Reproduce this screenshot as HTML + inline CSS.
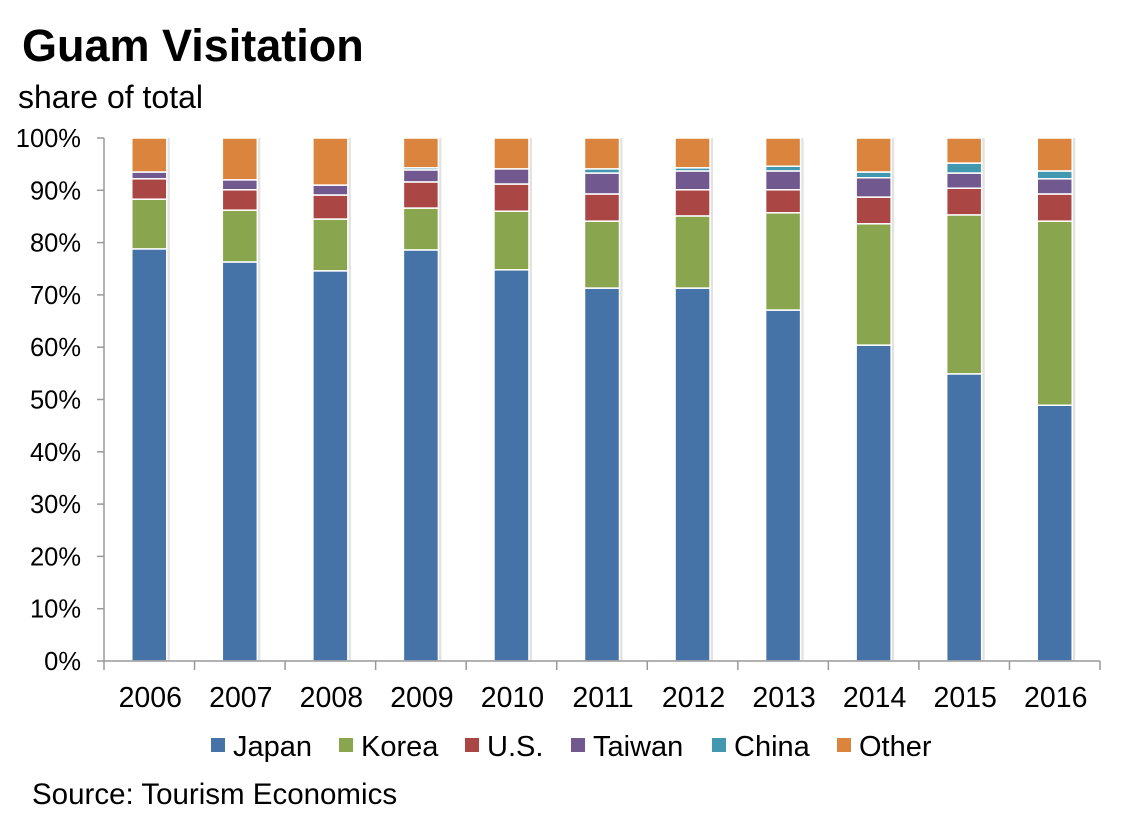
<!DOCTYPE html>
<html><head><meta charset="utf-8"><style>
body{margin:0;background:#fff;font-family:"Liberation Sans",Arial,sans-serif;}
svg text{font-family:"Liberation Sans",Arial,sans-serif;fill:#000;}
</style></head><body>
<svg id="chart" width="1130" height="820" xmlns="http://www.w3.org/2000/svg">
<text x="22" y="61" font-size="45" font-weight="bold">Guam Visitation</text>
<text x="18" y="108" font-size="32">share of total</text>
<text x="32" y="804" font-size="29.5">Source: Tourism Economics</text>
<g id="plot"></g>
<g id="legend"></g>
</svg>
<script>
const categories=["2006","2007","2008","2009","2010","2011","2012","2013","2014","2015","2016"];
const japan=[78.8,76.3,74.6,78.6,74.8,71.3,71.3,67.1,60.4,54.9,48.9];
const korea=[9.5,9.9,9.9,8.0,11.2,12.8,13.8,18.6,23.2,30.4,35.2];
const us=[3.9,3.9,4.6,5.0,5.2,5.2,5.0,4.4,5.1,5.1,5.2];
const taiwan=[1.3,1.9,1.9,2.3,2.9,4.0,3.6,3.6,3.7,2.9,2.9];
const china=[0,0,0,0.4,0,0.8,0.6,0.9,1.1,1.9,1.5];
const other=[6.5,8.0,9.0,5.7,5.9,5.9,5.7,5.4,6.5,4.8,6.3];
const yTicks=["0%","10%","20%","30%","40%","50%","60%","70%","80%","90%","100%"];
const seriesNames=["Japan","Korea","U.S.","Taiwan","China","Other"];
const seriesData=[japan,korea,us,taiwan,china,other];
const colors=["#4572A7","#89A54E","#AA4643","#71588F","#4198AF","#DB843D"];
const NS="http://www.w3.org/2000/svg";
const x0=104,x1=1100,y0=661,y1=138;
const bw=(x1-x0)/categories.length;
const ys=v=>y0-(v/100)*(y0-y1);
const plot=document.getElementById('plot');
function mk(t,a,p){const e=document.createElementNS(NS,t);for(const k in a)e.setAttribute(k,a[k]);(p||plot).appendChild(e);return e;}
yTicks.forEach((t,i)=>{const y=ys(i*10);
 const l=mk('line',{x1:97,x2:x0,y1:y,y2:y,stroke:'#999','stroke-width':1.5});
 
 
 const tx=mk('text',{x:81,y:y+9,'font-size':25.5,'text-anchor':'end'});tx.textContent=t;
 
 
});
categories.forEach((c,i)=>{const cx=x0+bw*(i+0.5);const w=35;let cum=0;
 const sh=mk('rect',{x:cx+w/2,y:y1,width:3,height:y0-y1,fill:'#e2e2e2'});
 
 
 seriesData.forEach((s,j)=>{const v=s[i];if(v<=0)return;const top=ys(cum+v),bot=ys(cum);cum+=v;
  const r=mk('rect',{x:cx-w/2,y:top,width:w,height:Math.max(bot-top,0),fill:colors[j],stroke:'#fff','stroke-width':1.5});
  
  
 });
 const tx=mk('text',{x:cx+1,y:707,'font-size':28.5,'text-anchor':'middle'});tx.textContent=c;
 
 
});
for(let i=0;i<=categories.length;i++){const x=x0+bw*i;
 const l=mk('line',{x1:x,x2:x,y1:y0,y2:670,stroke:'#999','stroke-width':1.5});
 
 
}
const ya=mk('line',{x1:x0,x2:x0,y1:y1,y2:y0,stroke:'#999','stroke-width':1.5});


const xa=mk('line',{x1:x0,x2:x1,y1:y0,y2:y0,stroke:'#999','stroke-width':1.5});


const lg=document.getElementById('legend');


const lx=[211,339,465,571,712,837];
seriesNames.forEach((n,i)=>{
 const g=mk('g',{},lg);
 
 
 mk('rect',{x:lx[i],y:738,width:14,height:14,fill:colors[i]},g);
 const t=mk('text',{x:lx[i]+22,y:756,'font-size':29},g);t.textContent=n;
});
</script>
</body></html>
